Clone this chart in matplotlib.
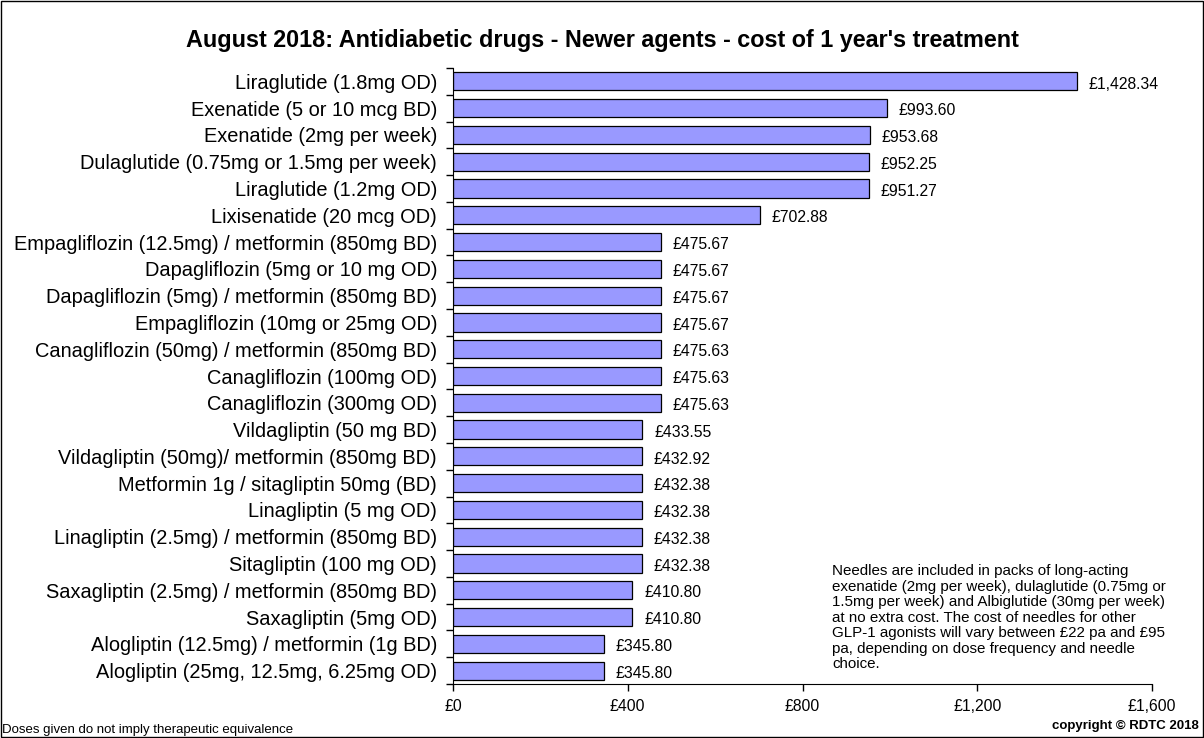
import matplotlib
matplotlib.use("Agg")
import matplotlib.pyplot as plt
import numpy as np

plt.rcParams['font.family'] = ['Liberation Sans', 'DejaVu Sans']

drugs = [
    "Liraglutide (1.8mg OD)",
    "Exenatide (5 or 10 mcg BD)",
    "Exenatide (2mg per week)",
    "Dulaglutide (0.75mg or 1.5mg per week)",
    "Liraglutide (1.2mg OD)",
    "Lixisenatide (20 mcg OD)",
    "Empagliflozin (12.5mg) / metformin (850mg BD)",
    "Dapagliflozin (5mg or 10 mg OD)",
    "Dapagliflozin (5mg) / metformin (850mg BD)",
    "Empagliflozin (10mg or 25mg OD)",
    "Canagliflozin (50mg) / metformin (850mg BD)",
    "Canagliflozin (100mg OD)",
    "Canagliflozin (300mg OD)",
    "Vildagliptin (50 mg BD)",
    "Vildagliptin (50mg)/ metformin (850mg BD)",
    "Metformin 1g / sitagliptin 50mg (BD)",
    "Linagliptin (5 mg OD)",
    "Linagliptin (2.5mg) / metformin (850mg BD)",
    "Sitagliptin (100 mg OD)",
    "Saxagliptin (2.5mg) / metformin (850mg BD)",
    "Saxagliptin (5mg OD)",
    "Alogliptin (12.5mg) / metformin (1g BD)",
    "Alogliptin (25mg, 12.5mg, 6.25mg OD)",
]
costs = [1428.34, 993.60, 953.68, 952.25, 951.27, 702.88,
         475.67, 475.67, 475.67, 475.67, 475.63, 475.63, 475.63,
         433.55, 432.92, 432.38, 432.38, 432.38, 432.38,
         410.80, 410.80, 345.80, 345.80]
xticks = [0, 400, 800, 1200, 1600]

fig = plt.figure(figsize=(12.04, 7.38), dpi=100)
ax = fig.add_axes([453 / 1204, 1 - 684 / 738, (1152 - 453) / 1204, (684 - 68) / 738])

n = len(drugs)
ypos = np.arange(n)
ax.barh(ypos, costs, height=0.68, color='#9999ff', edgecolor='black', linewidth=0.9)
for y, c in zip(ypos, costs):
    ax.text(c + 27, y + 0.1, "£{:,.2f}".format(c), va='center', ha='left', fontsize=11.3)

ax.set_ylim(n - 0.5, -0.5)
ax.set_xlim(0, 1600)
ax.set_yticks(ypos)
ax.set_yticklabels(drugs, fontsize=14.4)
ax.tick_params(axis='y', length=0, pad=11.5)
ax.set_yticks(np.arange(n + 1) - 0.5, minor=True)
ax.tick_params(axis='y', which='minor', length=5, width=1)
ax.set_xticks(xticks)
ax.set_xticklabels(["£{:,}".format(t) for t in xticks], fontsize=11.3)
ax.tick_params(axis='x', length=5, width=1, pad=6)
ax.spines['top'].set_visible(False)
ax.spines['right'].set_visible(False)

fig.text(0.5, 1 - 40 / 738, "August 2018: Antidiabetic drugs - Newer agents - cost of 1 year's treatment",
         ha='center', va='center', fontsize=16.8, fontweight='bold')

note = ("Needles are included in packs of long-acting\n"
        "exenatide (2mg per week), dulaglutide (0.75mg or\n"
        "1.5mg per week) and Albiglutide (30mg per week)\n"
        "at no extra cost. The cost of needles for other\n"
        "GLP-1 agonists will vary between £22 pa and £95\n"
        "pa, depending on dose frequency and needle\n"
        "choice.")
fig.text(832 / 1204, 1 - 564 / 738, note, ha='left', va='top', fontsize=10.9, linespacing=1.14)

fig.text(2 / 1204, 1 - 730 / 738, "Doses given do not imply therapeutic equivalence",
         ha='left', va='center', fontsize=9.5)
fig.text(1199 / 1204, 1 - 726 / 738, "copyright © RDTC 2018",
         ha='right', va='center', fontsize=9.5, fontweight='bold')

fig.patches.append(plt.Rectangle((0.001, 0.001), 0.998, 0.998, transform=fig.transFigure,
                                 fill=False, edgecolor='black', linewidth=1))

fig.savefig("out.png", dpi=100)
